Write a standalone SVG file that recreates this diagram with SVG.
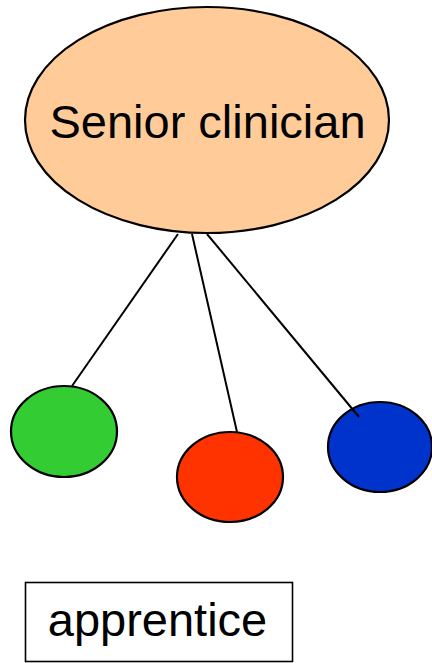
<svg xmlns="http://www.w3.org/2000/svg" width="432" height="663" viewBox="0 0 432 663">
<style>
.n{stroke:#000;stroke-width:2.2}
.t{font-family:"Liberation Sans",Arial,sans-serif;font-size:47px;fill:#000;text-anchor:middle}
.c line{stroke:#000;stroke-width:2}
</style>
<rect width="432" height="663" fill="#fff"/>
<g id="senior">
<ellipse class="n" cx="207" cy="120" rx="182" ry="113" fill="#ffcc99"/>
<text class="t" x="207.5" y="138">Senior clinician</text>
</g>
<g id="green"><ellipse class="n" cx="64" cy="431.5" rx="53" ry="45.5" fill="#33cc33"/></g>
<g id="red"><ellipse class="n" cx="230" cy="477" rx="53" ry="45" fill="#ff3300"/></g>
<g id="blue"><ellipse class="n" cx="380" cy="447" rx="52" ry="45" fill="#0033cc"/></g>
<g id="apprentice">
<rect x="25.5" y="582.5" width="267" height="79" fill="#fff" stroke="#000" stroke-width="1.6"/>
<text class="t" x="157.5" y="636">apprentice</text>
</g>
<g class="c" id="connectors">
<line x1="178" y1="234" x2="72" y2="386"/>
<line x1="192" y1="234" x2="237" y2="432"/>
<line x1="207" y1="234" x2="359" y2="417"/>
</g>
</svg>
